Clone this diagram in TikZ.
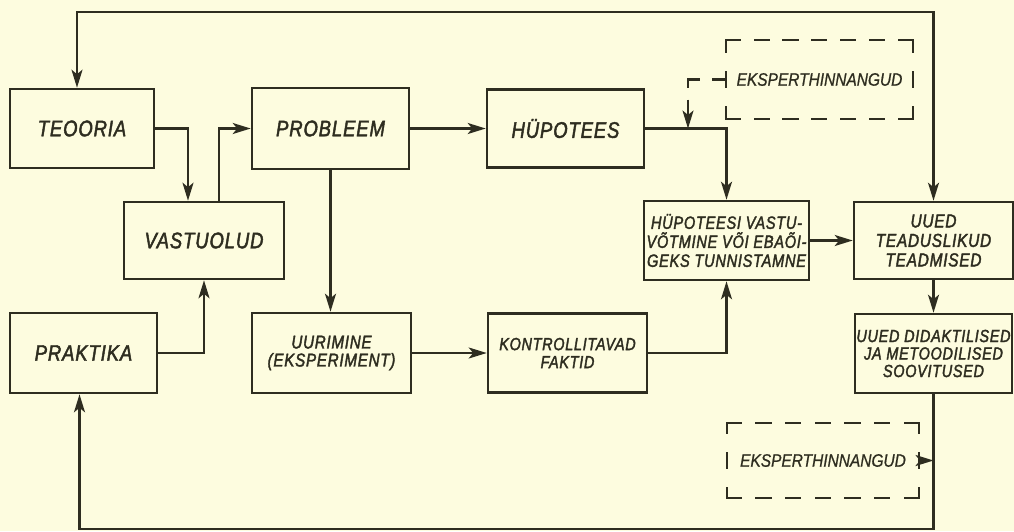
\documentclass[tikz,border=0pt]{standalone}
\usepackage{fontspec}
\setmainfont{Liberation Sans}
\newfontface\labfont{Liberation Sans Italic}[FakeStretch=0.82,FakeBold=2,LetterSpace=4]
\newfontface\eksfont{Liberation Sans Italic}[FakeStretch=0.86,FakeBold=0.8]
\usetikzlibrary{arrows.meta,calc}
\definecolor{bg}{HTML}{FDFCDF}
\definecolor{ink}{HTML}{2E2D20}
\begin{document}
\begin{tikzpicture}[x=1pt,y=-1pt,
  >={Stealth[length=18pt,width=11pt,inset=4.5pt]},
  box/.style={draw=ink,line width=2.6pt,inner sep=0pt,align=center,text=ink,
    font=\fontsize{22.5}{22.5}\selectfont\labfont},
  twoline/.style={font=\fontsize{18.5}{18}\selectfont\labfont},
  threeline/.style={font=\fontsize{17.6}{17.5}\selectfont\labfont},
  ekbox/.style={inner sep=0pt,text=ink,font=\fontsize{18}{17}\selectfont\eksfont},
  conn/.style={draw=ink,line width=2.2pt,->},
  dline/.style={draw=ink,line width=2.2pt,line cap=rect}
]
\fill[bg] (0,0) rectangle (1014,531);
\useasboundingbox (0,0) rectangle (1014,531);

% boxes
\node[box,minimum width=144pt,minimum height=79pt] (teo) at (82,128.5) {TEOORIA};
\node[box,minimum width=160pt,minimum height=77pt] (vast) at (204,240.5) {VASTUOLUD};
\node[box,minimum width=157pt,minimum height=81pt] (prob) at (330.5,128.5) {PROBLEEM};
\node[box,minimum width=157pt,minimum height=78pt] (hyp) at (565.5,128.5) {HÜPOTEES};
\node[box,font=\fontsize{17.8}{19}\selectfont\labfont,minimum width=165pt,minimum height=79pt] (hv) at (726.5,240.5)
  {HÜPOTEESI VASTU-\\VÕTMINE VÕI EBAÕI-\\GEKS TUNNISTAMNE};
\node[box,font=\fontsize{18.8}{19.5}\selectfont\labfont,minimum width=159pt,minimum height=77pt] (ut) at (933.5,240.5)
  {UUED\\TEADUSLIKUD\\TEADMISED};
\node[box,minimum width=147pt,minimum height=80pt] (prak) at (83.5,353) {PRAKTIKA};
\node[box,twoline,minimum width=159pt,minimum height=80pt] (uur) at (331.5,353)
  {UURIMINE\\(EKSPERIMENT)};
\node[box,font=\fontsize{17.6}{18}\selectfont\labfont,minimum width=159pt,minimum height=79pt] (kf) at (567.5,353)
  {KONTROLLITAVAD\\FAKTID};
\node[box,threeline,minimum width=157pt,minimum height=79pt] (ud) at (933.5,353.5)
  {UUED DIDAKTILISED\\JA METOODILISED\\SOOVITUSED};

% dashed expert boxes
\node[ekbox,minimum width=187pt,minimum height=79pt] (e1) at (819.5,79.5) {EKSPERTHINNANGUD};
\node[ekbox,minimum width=192pt,minimum height=75pt] (e2) at (823,460.5) {EKSPERTHINNANGUD};

\draw[dline,dash pattern=on 14pt off 14.83pt] (e1.north west) -- (e1.north east);
\draw[dline,dash pattern=on 14pt off 14.83pt] (e1.south west) -- (e1.south east);
\draw[dline,dash pattern=on 12pt off 20pt on 15pt off 20pt on 12pt off 40pt] (e1.north west) -- (e1.south west);
\draw[dline,dash pattern=on 12pt off 20pt on 15pt off 20pt on 12pt off 40pt] (e1.north east) -- (e1.south east);

\draw[dline,dash pattern=on 14pt off 15.67pt] (e2.north west) -- (e2.north east);
\draw[dline,dash pattern=on 14pt off 15.67pt] (e2.south west) -- (e2.south east);
\draw[dline,dash pattern=on 10pt off 20pt on 15pt off 20pt on 10pt off 40pt] (e2.north west) -- (e2.south west);
\draw[dline,dash pattern=on 10pt off 20pt on 15pt off 20pt on 10pt off 40pt] (e2.north east) -- (e2.south east);

% connectors
\draw[conn,<->] ([xshift=-5pt]teo.north) |- ($(ut.north)+(0,-189)$) -- (ut.north);
\draw[conn] (teo.east) -| ([xshift=-16pt]vast.north);
\draw[conn] ([xshift=15pt]vast.north) |- (prob.west);
\draw[conn] (prob.east) -- (hyp.west);
\draw[conn] (prob.south) -- (prob.south |- uur.north);
\draw[conn] (prak.east) -| (vast.south);
\draw[conn] (uur.east) -- (kf.west);
\draw[conn] (kf.east) -| (hv.south);
\draw[conn] (hyp.east) -| (hv.north);
\draw[conn] (hv.east) -- (ut.west);
\draw[conn] (ut.south) -- (ud.north);
\draw[conn] (ud.south) |- ($(prak.south)+(-4,135)$) -- ([xshift=-4pt]prak.south);

% dashed expert connectors
\coordinate (dj) at (688,128.5);
\draw[conn,dash pattern=on 14pt off 12pt on 20pt off 12pt on 60pt] (e1.west) -| (dj);
\draw[conn,dash pattern=on 6pt off 3pt] (e2.east) -- (e2.east -| ud.south);
\end{tikzpicture}
\end{document}
